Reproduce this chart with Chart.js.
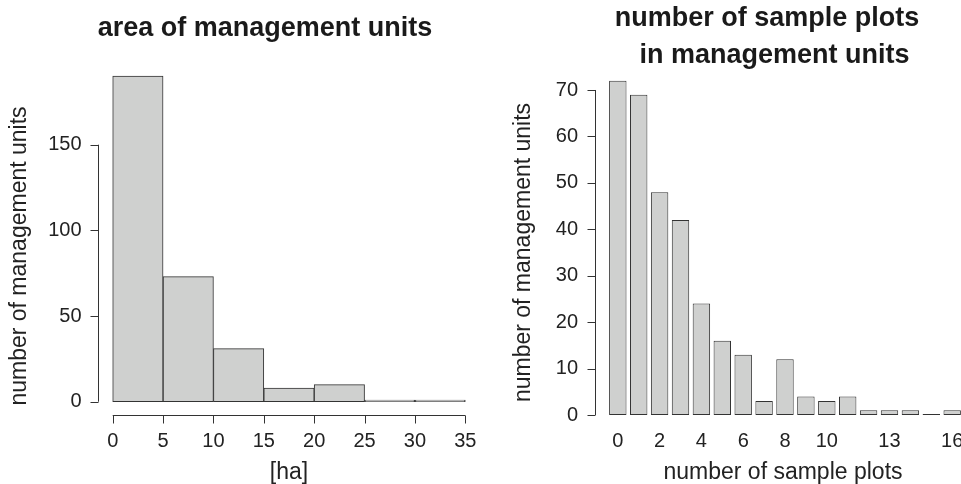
<!DOCTYPE html>
<html>
<head>
<meta charset="utf-8">
<script src="https://cdn.jsdelivr.net/npm/chart.js@4/dist/chart.umd.min.js"></script>
<style>
  html, body { margin: 0; padding: 0; background: #fff; overflow: hidden; }
  body { width: 961px; height: 484px; position: relative; }
  canvas { position: absolute; top: 0; }
</style>
</head>
<body>
<canvas id="areaChart" width="530" height="484" style="left:0px"></canvas>
<canvas id="plotChart" width="554" height="484" style="left:490px"></canvas>
<script>
// histogram: area of management units
const areaBreaks = [0, 5, 10, 15, 20, 25, 30, 35];
const areaCounts = [190, 73, 31, 8, 10, 1, 1];
const areaTicksX = [0, 5, 10, 15, 20, 25, 30, 35];
const areaTicksY = [0, 50, 100, 150];

// barplot: number of sample plots per management unit
const plotCounts = [0, 1, 2, 3, 4, 5, 6, 7, 8, 9, 10, 11, 12, 13, 14, 15, 16];
const unitCounts = [72, 69, 48, 42, 24, 16, 13, 3, 12, 4, 3, 4, 1, 1, 1, 0, 1];
const plotTicksX = [0, 2, 4, 6, 8, 10, 13, 16];
const plotTicksY = [0, 10, 20, 30, 40, 50, 60, 70];

Chart.defaults.font.family = '"Liberation Sans", Arial, Helvetica, sans-serif';
Chart.defaults.color = '#222';

const barFill = '#cfd0cf';
const barLine = '#333';
const axisColor = '#333';

// R-style axes: line only between first and last tick, set off from the bars
const rAxes = {
  id: 'rAxes',
  afterDatasetsDraw(chart, args, opts) {
    const {ctx, chartArea} = chart;
    const xs = chart.scales.x, ys = chart.scales.y;
    ctx.save();
    ctx.strokeStyle = axisColor;
    ctx.lineWidth = 1;
    ctx.beginPath();
    if (opts.xAxis) {
      const y = Math.round(chartArea.bottom) + 0.5;
      const t = opts.xAxis;
      ctx.moveTo(xs.getPixelForValue(t[0]), y);
      ctx.lineTo(xs.getPixelForValue(t[t.length - 1]), y);
      t.forEach(v => {
        const x = Math.round(xs.getPixelForValue(v)) + 0.5;
        ctx.moveTo(x, y);
        ctx.lineTo(x, y + 8);
      });
    }
    if (opts.yAxis) {
      const x = Math.floor(chartArea.left) + 0.5;
      const t = opts.yAxis;
      ctx.moveTo(x, ys.getPixelForValue(t[0]));
      ctx.lineTo(x, ys.getPixelForValue(t[t.length - 1]));
      t.forEach(v => {
        const y = Math.round(ys.getPixelForValue(v)) + 0.5;
        ctx.moveTo(x, y);
        ctx.lineTo(x - 8, y);
      });
    }
    ctx.stroke();
    ctx.restore();
  }
};

const tickFont = {size: 20};
const labelFont = {size: 23, lineHeight: 1};

// empty right-hand box so the title can sit off the plot centre, as in the original
function spacer(w) {
  return {
    type: 'linear',
    position: 'right',
    grid: {display: false},
    border: {display: false},
    ticks: {display: false},
    afterFit: s => { s.width = w; }
  };
}

new Chart(document.getElementById('areaChart'), {
  type: 'bar',
  data: {
    datasets: [{
      data: areaCounts.map((c, i) => ({x: (areaBreaks[i] + areaBreaks[i + 1]) / 2, y: c})),
      backgroundColor: barFill,
      borderColor: barLine,
      borderWidth: 1,
      borderSkipped: false,
      barPercentage: 1,
      categoryPercentage: 1,
      clip: false
    }]
  },
  options: {
    responsive: false,
    animation: false,
    devicePixelRatio: 1,
    layout: {padding: 0},
    plugins: {
      legend: {display: false},
      tooltip: {enabled: false},
      title: {
        display: true,
        text: 'area of management units',
        color: '#1a1a1a',
        font: {size: 27, weight: 'bold', lineHeight: 1.2},
        padding: {top: 12.7, bottom: 51.9}
      },
      rAxes: {xAxis: areaTicksX, yAxis: areaTicksY}
    },
    scales: {
      x: {
        type: 'linear',
        offset: false,
        min: -1.4,
        max: 36.4,
        grid: {display: false, drawTicks: false},
        border: {display: false},
        afterBuildTicks: s => { s.ticks = areaTicksX.map(v => ({value: v})); },
        afterFit: s => { s.height = 69; },
        ticks: {font: tickFont, padding: 14, autoSkip: false, maxRotation: 0, callback: v => String(v)},
        title: {display: true, text: '[ha]', font: labelFont, padding: {top: 0, bottom: 0}}
      },
      y: {
        min: -7.76,
        max: 177.84,
        grid: {display: false, drawTicks: false},
        border: {display: false},
        afterBuildTicks: s => { s.ticks = areaTicksY.map(v => ({value: v})); },
        afterFit: s => { s.width = 98.6; },
        ticks: {font: tickFont, padding: 17, callback: v => String(v)},
        title: {display: true, text: 'number of management units', font: labelFont, padding: {top: 8.2, bottom: 0}}
      },
      yR: spacer(50.6)
    }
  },
  plugins: [rAxes]
});

new Chart(document.getElementById('plotChart'), {
  type: 'bar',
  data: {
    datasets: [{
      data: plotCounts.map((k, i) => ({x: k, y: unitCounts[i]})),
      backgroundColor: barFill,
      borderColor: barLine,
      borderWidth: 1,
      borderSkipped: false,
      barPercentage: 1 / 1.2,
      categoryPercentage: 1,
      minBarLength: 1,
      clip: false
    }]
  },
  options: {
    responsive: false,
    animation: false,
    devicePixelRatio: 1,
    layout: {padding: 0},
    plugins: {
      legend: {display: false},
      tooltip: {enabled: false},
      title: {
        display: true,
        text: ['number of sample plots', '  in management units'],
        color: '#1a1a1a',
        font: {size: 27, weight: 'bold', lineHeight: 1.359},
        padding: {top: 0.55, bottom: 16.05}
      },
      rAxes: {yAxis: plotTicksY}
    },
    scales: {
      x: {
        type: 'linear',
        offset: false,
        min: -1.091,
        max: 16.9,
        grid: {display: false, drawTicks: false},
        border: {display: false},
        afterBuildTicks: s => { s.ticks = plotTicksX.map(v => ({value: v})); },
        afterFit: s => { s.height = 69; },
        ticks: {font: tickFont, padding: 14, autoSkip: false, maxRotation: 0, callback: v => String(v)},
        title: {display: true, text: 'number of sample plots', font: labelFont, padding: {top: 0, bottom: 0}}
      },
      y: {
        min: 0,
        max: 70,
        grid: {display: false, drawTicks: false},
        border: {display: false},
        afterBuildTicks: s => { s.ticks = plotTicksY.map(v => ({value: v})); },
        afterFit: s => { s.width = 105; },
        ticks: {font: tickFont, padding: 17, callback: v => String(v)},
        title: {display: true, text: 'number of management units', font: labelFont, padding: {top: 21.7, bottom: 0}}
      },
      yR: spacer(73)
    }
  },
  plugins: [rAxes]
});
</script>
</body>
</html>
